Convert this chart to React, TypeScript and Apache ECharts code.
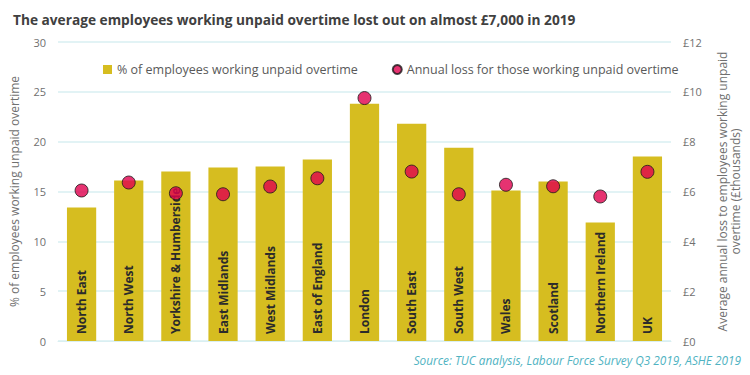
import React, { useEffect, useRef } from "react";
import * as echarts from "echarts";

const categories = [
  "North East", "North West", "Yorkshire & Humberside", "East Midlands", "West Midlands",
  "East of England", "London", "South East", "South West", "Wales", "Scotland",
  "Northern Ireland", "UK",
];
const pctUnpaid = [13.4, 16.1, 17.0, 17.4, 17.5, 18.2, 23.8, 21.8, 19.4, 15.1, 16.0, 11.9, 18.5];
const annualLoss = [6.04, 6.36, 5.93, 5.89, 6.2, 6.53, 9.75, 6.8, 5.89, 6.27, 6.21, 5.8, 6.79];
const leftTicks = { min: 0, max: 30, interval: 5 };
const rightTicks = { min: 0, max: 12, interval: 2 };

const FONT = "'Open Sans', 'Noto Sans', sans-serif";

export default function App() {
  const ref = useRef<HTMLDivElement>(null);
  useEffect(() => {
    if (!ref.current) return;
    const chart = echarts.init(ref.current, undefined, { renderer: "svg" });
    chart.setOption({
      animation: false,
      backgroundColor: "#ffffff",
      textStyle: { fontFamily: FONT },
      title: {
        text: "The average employees working unpaid overtime lost out on almost £7,000 in 2019",
        left: 8,
        top: 7,
        textStyle: { fontFamily: FONT, fontSize: 13.7, fontWeight: 700, color: "#404040" },
      },
      legend: {
        left: 103,
        top: 63,
        padding: 0,
        itemWidth: 9,
        itemHeight: 9,
        itemGap: 34,
        textStyle: { fontFamily: FONT, fontSize: 12.5, color: "#595959" },
        data: [
          { name: "% of employees working unpaid overtime", icon: "rect" },
          { name: "Annual loss for those working unpaid overtime", icon: "circle" },
        ],
      },
      grid: { left: 57, right: 66, top: 42, bottom: 34 },
      xAxis: {
        type: "category",
        data: categories,
        axisLine: { show: true, lineStyle: { color: "#d9eff2" } },
        axisTick: { show: false },
        axisLabel: { show: false },
      },
      yAxis: [
        {
          type: "value",
          ...leftTicks,
          name: "% of employees working unpaid overtime",
          nameLocation: "middle",
          nameRotate: 90,
          nameGap: 38,
          nameTextStyle: { fontFamily: FONT, fontSize: 12, color: "#707070" },
          axisLine: { show: false },
          axisTick: { show: false },
          axisLabel: { fontFamily: FONT, fontSize: 11, color: "#707070", margin: 12 },
          splitLine: { lineStyle: { color: "#d9eff2", width: 1.5 } },
        },
        {
          type: "value",
          ...rightTicks,
          position: "right",
          name: "Average annual loss to employees working unpaid\novertime (£thousands)",
          nameLocation: "middle",
          nameRotate: 90,
          nameGap: 45,
          nameTextStyle: { fontFamily: FONT, fontSize: 12, color: "#707070", lineHeight: 13 },
          axisLine: { show: false },
          axisTick: { show: false },
          axisLabel: { fontFamily: FONT, fontSize: 11, color: "#707070", margin: 12, formatter: "£{value}" },
          splitLine: { show: false },
        },
      ],
      series: [
        {
          name: "% of employees working unpaid overtime",
          type: "bar",
          yAxisIndex: 0,
          data: pctUnpaid,
          barWidth: "62%",
          itemStyle: { color: "#d6bd20" },
          label: {
            show: true,
            position: "insideBottom",
            rotate: 90,
            align: "left",
            verticalAlign: "middle",
            distance: 7,
            formatter: "{b}",
            fontFamily: FONT,
            fontSize: 12,
            fontWeight: 700,
            color: "#2b2b2b",
          },
        },
        {
          name: "Annual loss for those working unpaid overtime",
          type: "scatter",
          yAxisIndex: 1,
          data: annualLoss,
          symbol: "circle",
          symbolSize: 13,
          itemStyle: { color: "#e0004d", borderColor: "#1a1a1a", borderWidth: 1 },
          z: 5,
        },
      ],
      graphic: [
        {
          type: "text",
          right: 9,
          top: 354,
          style: {
            text: "Source: TUC analysis, Labour Force Survey Q3 2019, ASHE 2019",
            fontFamily: FONT,
            fontSize: 11.8,
            fontStyle: "italic",
            fill: "#4fb3c2",
          },
        },
      ],
    });
    return () => chart.dispose();
  }, []);
  return <div ref={ref} style={{ width: 750, height: 375, position: "fixed", left: 0, top: 0 }} />;
}
